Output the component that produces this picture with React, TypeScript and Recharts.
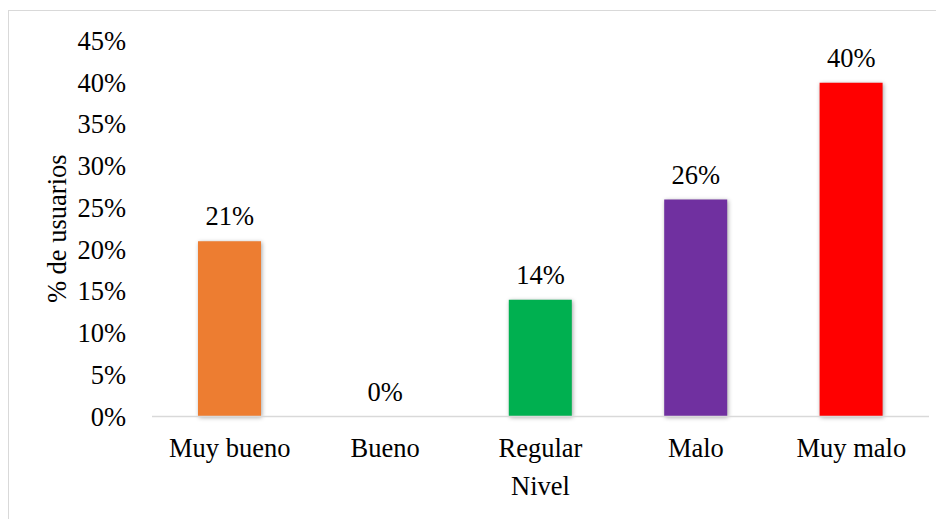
import React from 'react';
import { ComposedChart, Bar, Line, XAxis, YAxis, Cell, LabelList, Label } from 'recharts';

// Nivel de satisfacción de los usuarios
const niveles = ['Muy bueno', 'Bueno', 'Regular', 'Malo', 'Muy malo'];
const porcentajes = [21, 0, 14, 26, 40];
const colores = ['#ED7D31', '#A5A5A5', '#00B050', '#7030A0', '#FF0000'];
const yTicks = [0, 5, 10, 15, 20, 25, 30, 35, 40, 45];

const data = niveles.map((nivel, i) => ({ nivel, valor: porcentajes[i] }));

const FONT = '"Liberation Serif", "Times New Roman", serif';
const FS = 26.5;
const pct = (v: number | string) => `${v}%`;

const YTitle = (props: any) => {
  const vb = props.viewBox || {};
  const cx = vb.x + 27;
  const cy = vb.y + vb.height / 2;
  return (
    <text
      x={cx}
      y={cy}
      transform={`rotate(-90, ${cx}, ${cy})`}
      textAnchor="middle"
      fontFamily={FONT}
      fontSize={FS}
      fill="#000"
    >
      % de usuarios
    </text>
  );
};

const XTitle = (props: any) => {
  const vb = props.viewBox || {};
  return (
    <text
      x={vb.x + vb.width / 2}
      y={vb.y + 78.5}
      textAnchor="middle"
      fontFamily={FONT}
      fontSize={FS}
      fill="#000"
    >
      Nivel
    </text>
  );
};

const YTick = (props: any) => {
  const { x, y, payload } = props;
  return (
    <text x={x} y={y} dy="0.34em" textAnchor="end" fontFamily={FONT} fontSize={FS} fill="#000">
      {pct(payload.value)}
    </text>
  );
};

const XTick = (props: any) => {
  const { x, y, payload } = props;
  return (
    <text x={x} y={y} dy="0.71em" textAnchor="middle" fontFamily={FONT} fontSize={FS} fill="#000">
      {payload.value}
    </text>
  );
};

// Value label above each bar, anchored at the point (category, value)
const ValorLabel = (props: any) => {
  const { x, y, value } = props;
  if (value == null) return null;
  return (
    <text x={x} y={Number(y) - 16} textAnchor="middle" fontFamily={FONT} fontSize={FS} fill="#000">
      {pct(value)}
    </text>
  );
};

export default function App() {
  return (
    <div
      style={{
        marginTop: 2,
        width: 927,
        height: 508,
        borderTop: '1px solid #D9D9D9',
        borderLeft: '1px solid #D9D9D9',
        background: '#fff',
      }}
    >
      <ComposedChart
        width={927}
        height={508}
        data={data}
        margin={{ top: 30, right: 7, bottom: 12.5, left: 30 }}
      >
        <XAxis
          dataKey="nivel"
          height={90}
          axisLine={{ stroke: '#D9D9D9', strokeWidth: 1.5 }}
          tickLine={false}
          tickMargin={16}
          tick={XTick}
          interval={0}
        >
          <Label content={XTitle} />
        </XAxis>
        <YAxis
          width={113}
          domain={[0, 45]}
          ticks={yTicks}
          axisLine={false}
          tickLine={false}
          tickMargin={20}
          tick={YTick}
        >
          <Label content={YTitle} />
        </YAxis>
        <Bar dataKey="valor" barSize={63} isAnimationActive={false}>
          {data.map((d, i) => (
            <Cell
              key={d.nivel}
              fill={colores[i]}
              style={{ filter: 'drop-shadow(1px 1px 2px rgba(0,0,0,0.35))' }}
            />
          ))}
        </Bar>
        <Line
          dataKey="valor"
          stroke="none"
          dot={false}
          activeDot={false}
          legendType="none"
          isAnimationActive={false}
        >
          <LabelList dataKey="valor" content={ValorLabel} />
        </Line>
      </ComposedChart>
    </div>
  );
}
